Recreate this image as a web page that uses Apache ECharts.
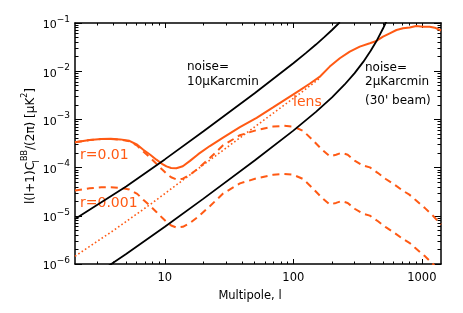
<!DOCTYPE html>
<html><head><meta charset="utf-8">
<script src="https://cdn.jsdelivr.net/npm/echarts@6/dist/echarts.min.js"></script>
<style>html,body{margin:0;padding:0;background:#fff}#c{width:463px;height:313px}</style>
</head><body><div id="c"></div>
<script>
// ---- data ----
// noise = 10 uK-arcmin
const noiseA_l = [2, 5, 10, 20, 50, 100, 125, 150, 175, 200, 230];
const noiseA_c = [8.6e-6, 4.04e-5, 1.48e-4, 5.67e-4, 3.49e-3, 0.0146, 0.0237, 0.0357, 0.0514, 0.0716, 0.1036];
// noise = 2 uK-arcmin (30' beam)
const noiseB_l = [3.5, 5, 10, 20, 50, 100, 150, 200, 250, 300, 350, 400, 450, 500, 530];
const noiseB_c = [8.49e-7, 1.616e-6, 5.93e-6, 2.27e-5, 1.40e-4, 5.84e-4, 1.43e-3, 2.87e-3, 5.24e-3, 9.14e-3, 0.0156, 0.0265, 0.0451, 0.0777, 0.1083];
// lensing B-modes (dotted)
const lens_l = [2, 4, 8, 15.7, 30, 60, 119, 160];
const lens_c = [1.45e-6, 5.0e-6, 1.85e-5, 7.1e-5, 2.55e-4, 1.0e-3, 3.85e-3, 7.1e-3];
// total, r=0.01 + lensing (solid)
const total_l = [2, 2.6, 3.2, 3.8, 4.5, 5.3, 6.1, 6.8, 7.7, 8.6, 9.5, 10.3, 11.2, 12.3, 13.8, 15.7, 18.2, 22.4, 28.4, 38.4, 51.8, 70, 94, 112, 134, 160, 192, 230, 275, 329, 394, 443, 499, 563, 635, 714, 805, 904, 1021, 1151, 1260, 1410];
const total_c = [3.35e-4, 3.75e-4, 3.92e-4, 3.95e-4, 3.85e-4, 3.6e-4, 2.98e-4, 2.35e-4, 1.85e-4, 1.46e-4, 1.2e-4, 1.06e-4, 9.8e-5, 9.7e-5, 1.07e-4, 1.38e-4, 1.9e-4, 2.8e-4, 4.2e-4, 6.9e-4, 1.08e-3, 1.8e-3, 2.98e-3, 4.0e-3, 5.5e-3, 7.6e-3, 0.01247, 0.0186, 0.0255, 0.0323, 0.038, 0.0424, 0.0521, 0.0612, 0.0716, 0.0776, 0.081, 0.0867, 0.0838, 0.0835, 0.080, 0.070];
// primordial r=0.01 (dashed)
const prim01_l = [2, 2.6, 3.2, 3.8, 4.5, 5.3, 6.1, 6.8, 7.7, 8.6, 9.5, 10.3, 11.2, 12.3, 13.8, 15.7, 18.2, 22.4, 28.4, 38.4, 51.8, 69.7, 85, 100, 119, 142, 166, 192, 215, 237, 265, 300, 345, 394, 456, 524, 615, 714, 800, 881, 1054, 1222, 1410];
const prim01_c = [3.35e-4, 3.72e-4, 3.9e-4, 3.93e-4, 3.8e-4, 3.5e-4, 2.85e-4, 2.15e-4, 1.6e-4, 1.2e-4, 9.2e-5, 7.5e-5, 6.3e-5, 5.7e-5, 5.9e-5, 7.1e-5, 9.6e-5, 1.58e-4, 2.9e-4, 4.7e-4, 6.0e-4, 7.1e-4, 7.35e-4, 7.1e-4, 5.8e-4, 3.7e-4, 2.4e-4, 1.72e-4, 1.85e-4, 2.02e-4, 1.85e-4, 1.4e-4, 1.12e-4, 1.01e-4, 7.7e-5, 5.8e-5, 4.4e-5, 3.3e-5, 2.75e-5, 2.2e-5, 1.46e-5, 1.0e-5, 6.6e-6];
// primordial r=0.001 (dashed)
const prim001_l = [2, 2.6, 3.2, 3.8, 4.5, 5.3, 6.1, 6.8, 7.7, 8.6, 9.5, 10.3, 11.2, 12.3, 13.8, 15.7, 18.2, 22.4, 28.4, 38.4, 51.8, 69.7, 85, 100, 119, 142, 166, 192, 215, 237, 265, 300, 345, 394, 456, 524, 615, 714, 800, 881, 1054, 1222, 1410];
const prim001_c = [3.35e-5, 3.72e-5, 3.9e-5, 3.93e-5, 3.8e-5, 3.5e-5, 2.85e-5, 2.15e-5, 1.6e-5, 1.2e-5, 9.2e-6, 7.5e-6, 6.3e-6, 5.7e-6, 5.9e-6, 7.1e-6, 9.6e-6, 1.58e-5, 2.9e-5, 4.7e-5, 6.0e-5, 7.1e-5, 7.35e-5, 7.1e-5, 5.8e-5, 3.7e-5, 2.4e-5, 1.72e-5, 1.85e-5, 2.02e-5, 1.85e-5, 1.4e-5, 1.12e-5, 1.01e-5, 7.7e-6, 5.8e-6, 4.4e-6, 3.3e-6, 2.75e-6, 2.2e-6, 1.46e-6, 1.0e-6, 6.6e-7];
// ticks
const xMajor = [10, 100, 1000];
const xMinor = [3, 4, 5, 6, 7, 8, 9, 20, 30, 40, 50, 60, 70, 80, 90, 200, 300, 400, 500, 600, 700, 800, 900];
const yMajor = [1e-6, 1e-5, 1e-4, 1e-3, 1e-2, 1e-1];
const yMinorMant = [2, 3, 4, 5, 6, 7, 8, 9];
const yMinorExp = [-6, -5, -4, -3, -2];

const ORANGE = '#ff5a14';
const FONT = 'DejaVu Sans';
const yMinor = [];
yMinorExp.forEach(e => yMinorMant.forEach(m => yMinor.push(parseFloat((m + 'e' + e)))));
const pairs = (a, b) => a.map((v, i) => [v, b[i]]);

function xAx(pos, ticks, len, showLine, labels) {
  return {
    type: 'log', logBase: 10, min: 2, max: 1410, position: pos,
    axisLine: {show: showLine, onZero: false, lineStyle: {color: '#000', width: 1.5}},
    axisTick: {show: true, inside: true, length: len, customValues: ticks, lineStyle: {color: '#000', width: 1}},
    axisLabel: labels ? {show: true, customValues: xMajor, color: '#000', fontFamily: FONT, fontSize: 11.5, margin: 8,
      formatter: v => String(Math.round(v))} : {show: false},
    splitLine: {show: false}, minorTick: {show: false}
  };
}
function yAx(pos, ticks, len, showLine, labels) {
  return {
    type: 'log', logBase: 10, min: 1e-6, max: 0.1, position: pos,
    axisLine: {show: showLine, onZero: false, lineStyle: {color: '#000', width: 1.5}},
    axisTick: {show: true, inside: true, length: len, customValues: ticks, lineStyle: {color: '#000', width: 1}},
    axisLabel: labels ? {show: true, customValues: yMajor, color: '#000', fontFamily: FONT, margin: 5,
      formatter: v => '{b|10}{s|\u2212' + Math.abs(Math.round(Math.log10(v))) + '}',
      rich: {b: {fontFamily: FONT, fontSize: 11, lineHeight: 16, verticalAlign: 'bottom', color: '#000'},
             s: {fontFamily: FONT, fontSize: 9, lineHeight: 16, verticalAlign: 'top', color: '#000'}}} : {show: false},
    splitLine: {show: false}, minorTick: {show: false}
  };
}

const chart = echarts.init(document.getElementById('c'), null, {renderer: 'canvas'});
chart.setOption({
  animation: false,
  backgroundColor: '#fff',
  grid: {left: 75, right: 22, top: 23, bottom: 49, containLabel: false, outerBoundsMode: 'none'},
  xAxis: [xAx('bottom', xMajor, 5, true, true), xAx('bottom', xMinor, 2.5, false, false),
          xAx('top', xMajor, 5, true, false), xAx('top', xMinor, 2.5, false, false)],
  yAxis: [yAx('left', yMajor, 7, true, true), yAx('left', yMinor, 3.5, false, false),
          yAx('right', yMajor, 7, true, false), yAx('right', yMinor, 3.5, false, false)],
  series: [
    {type: 'line', data: pairs(prim01_l, prim01_c), symbol: 'none', lineStyle: {color: ORANGE, width: 2, type: [7, 5]}, z: 2},
    {type: 'line', data: pairs(prim001_l, prim001_c), symbol: 'none', lineStyle: {color: ORANGE, width: 2, type: [7, 5]}, z: 2},
    {type: 'line', data: pairs(lens_l, lens_c), symbol: 'none', lineStyle: {color: ORANGE, width: 1.6, type: [1.6, 2.4]}, z: 2},
    {type: 'line', data: pairs(total_l, total_c), symbol: 'none', lineStyle: {color: ORANGE, width: 2}, z: 3},
    {type: 'line', data: pairs(noiseA_l, noiseA_c), symbol: 'none', lineStyle: {color: '#000', width: 1.8}, z: 4},
    {type: 'line', data: pairs(noiseB_l, noiseB_c), symbol: 'none', lineStyle: {color: '#000', width: 1.8}, z: 4}
  ],
  graphic: [
    {type: 'text', x: 187, y: 67, style: {text: 'noise=', fill: '#000', font: '12px "DejaVu Sans"', verticalAlign: 'middle'}},
    {type: 'text', x: 187, y: 82, style: {text: '10\u03bcKarcmin', fill: '#000', font: '12px "DejaVu Sans"', verticalAlign: 'middle'}},
    {type: 'text', x: 365, y: 68, style: {text: 'noise=', fill: '#000', font: '12px "DejaVu Sans"', verticalAlign: 'middle'}},
    {type: 'text', x: 365, y: 82, style: {text: '2\u03bcKarcmin', fill: '#000', font: '12px "DejaVu Sans"', verticalAlign: 'middle'}},
    {type: 'text', x: 365, y: 101, style: {text: "(30' beam)", fill: '#000', font: '12px "DejaVu Sans"', verticalAlign: 'middle'}},
    {type: 'text', x: 80, y: 155, style: {text: 'r=0.01', fill: ORANGE, font: '14px "DejaVu Sans"', verticalAlign: 'middle'}},
    {type: 'text', x: 80, y: 203, style: {text: 'r=0.001', fill: ORANGE, font: '14px "DejaVu Sans"', verticalAlign: 'middle'}},
    {type: 'text', x: 293, y: 102, style: {text: 'lens', fill: ORANGE, font: '14px "DejaVu Sans"', verticalAlign: 'middle'}},
    {type: 'text', x: 250, y: 296, style: {text: 'Multipole, l', fill: '#000', font: '11.5px "DejaVu Sans"', align: 'center', verticalAlign: 'middle'}},
    {type: 'text', x: 31, y: 146, rotation: Math.PI / 2,
      style: {text: 'l(l+1)C{sub|l}{sup|BB}/(2\u03c0) [\u03bcK{sup|2}]', fill: '#000', font: '12px "DejaVu Sans"',
        align: 'center', verticalAlign: 'middle',
        rich: {sub: {fontFamily: FONT, fontSize: 8, lineHeight: 20, verticalAlign: 'bottom', width: 1, fill: '#000'},
               sup: {fontFamily: FONT, fontSize: 8, lineHeight: 20, verticalAlign: 'top', fill: '#000'}}}}
  ]
});
</script></body></html>
